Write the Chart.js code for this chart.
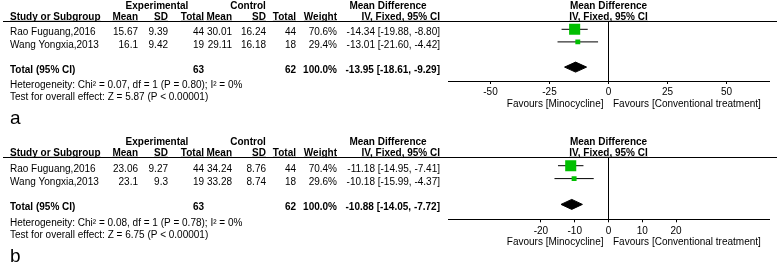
<!DOCTYPE html>
<html>
<head>
<meta charset="utf-8">
<script src="https://cdn.jsdelivr.net/npm/chart.js@4.4.1/dist/chart.umd.min.js"></script>
<style>
  body { margin: 0; background: #fff; }
  canvas { position: absolute; left: 0; }
</style>
</head>
<body>
<canvas id="panelA" width="777" height="136" style="top:0"></canvas>
<canvas id="panelB" width="777" height="128" style="top:136px"></canvas>
<script>
const studies = ['Rao Fuguang,2016', 'Wang Yongxia,2013'];

// panel a
const aExpMean = [15.67, 16.1];
const aExpSD = [9.39, 9.42];
const aExpTotal = [44, 19];
const aCtlMean = [30.01, 29.11];
const aCtlSD = [16.24, 16.18];
const aCtlTotal = [44, 18];
const aWeight = [70.6, 29.4];
const aMD = [-14.34, -13.01];
const aLow = [-19.88, -21.60];
const aHigh = [-8.80, -4.42];
const aPooled = [-13.95, -18.61, -9.29]; // estimate, low, high
const aTotals = [63, 62];
const aHet = 'Heterogeneity: Chi² = 0.07, df = 1 (P = 0.80); I² = 0%';
const aTest = 'Test for overall effect: Z = 5.87 (P < 0.00001)';
const aTicks = [-50, -25, 0, 25, 50];

// panel b
const bExpMean = [23.06, 23.1];
const bExpSD = [9.27, 9.3];
const bExpTotal = [44, 19];
const bCtlMean = [34.24, 33.28];
const bCtlSD = [8.76, 8.74];
const bCtlTotal = [44, 18];
const bWeight = [70.4, 29.6];
const bMD = [-11.18, -10.18];
const bLow = [-14.95, -15.99];
const bHigh = [-7.41, -4.37];
const bPooled = [-10.88, -14.05, -7.72];
const bTotals = [63, 62];
const bHet = 'Heterogeneity: Chi² = 0.08, df = 1 (P = 0.78); I² = 0%';
const bTest = 'Test for overall effect: Z = 6.75 (P < 0.00001)';
const bTicks = [-20, -10, 0, 10, 20];

const FONT = '"Liberation Sans", Arial, sans-serif';
const GREEN = '#00bf00';

// right edges of the numeric columns
const cols = { expMean: 138, expSD: 168, expN: 204, ctlMean: 232, ctlSD: 266, ctlN: 296, weight: 337, md: 440 };

function fmtCI(est, lo, hi) {
  return est.toFixed(2) + ' [' + lo.toFixed(2) + ', ' + hi.toFixed(2) + ']';
}

function txt(ctx, s, x, y, align, bold, size, underline) {
  ctx.font = (bold ? 'bold ' : '') + (size || 10) + 'px ' + FONT;
  ctx.textAlign = align;
  ctx.textBaseline = 'alphabetic';
  ctx.fillStyle = '#000';
  ctx.fillText(s, x, y);
  if (underline) {
    const w = ctx.measureText(s).width;
    const x0 = align === 'right' ? x - w : align === 'center' ? x - w / 2 : x;
    ctx.fillRect(x0, y + 1, w, 1);
  }
}

function drawPanel(id, d, lay) {
  const canvas = document.getElementById(id);
  const H = canvas.height;
  const axisH = 18;
  const yMin = -(lay.firstRow - lay.headerLine) / lay.rowPx;
  const yMax = (lay.axisY - lay.firstRow) / lay.rowPx;
  const totalRow = d.md.length + 1;
  const [est, lo, hi] = d.pooled;
  const h = 5 / lay.rowPx;

  const datasets = [];
  datasets.push({
    data: d.md.map((v, i) => ({ x: v, y: i })),
    pointStyle: 'rect',
    pointRadius: d.weight.map(w => (w * 0.15 + 0.5) / Math.SQRT2),
    backgroundColor: GREEN,
    borderWidth: 0,
    order: 0
  });
  d.md.forEach((v, i) => {
    datasets.push({
      data: [{ x: d.low[i], y: i }, { x: d.high[i], y: i }],
      showLine: true, borderColor: '#000', borderWidth: 1, pointRadius: 0, order: 1
    });
  });
  datasets.push({
    data: [{ x: lo, y: totalRow }, { x: est, y: totalRow - h }, { x: hi, y: totalRow },
           { x: est, y: totalRow + h }, { x: lo, y: totalRow }],
    showLine: true, fill: 'shape', backgroundColor: '#000', borderColor: '#000',
    borderWidth: 1, pointRadius: 0, order: 1
  });
  datasets.push({
    data: [{ x: 0, y: yMin }, { x: 0, y: yMax }],
    showLine: true, borderColor: '#000', borderWidth: 1, pointRadius: 0, order: 2
  });

  const tablePlugin = {
    id: 'table',
    afterDraw(chart) {
      const ctx = chart.ctx;
      const ys = chart.scales.y;
      const xs = chart.scales.x;
      const x0 = xs.getPixelForValue(0);
      ctx.save();
      // header
      txt(ctx, 'Experimental', 157, 8.5, 'center', true);
      txt(ctx, 'Control', 248, 8.5, 'center', true);
      txt(ctx, 'Mean Difference', 388, 8.5, 'center', true);
      txt(ctx, 'Mean Difference', x0, 8.5, 'center', true);
      const hy = 19.8;
      txt(ctx, 'Study or Subgroup', 10, hy, 'left', true, 10, true);
      txt(ctx, 'Mean', cols.expMean, hy, 'right', true, 10, true);
      txt(ctx, 'SD', cols.expSD, hy, 'right', true, 10, true);
      txt(ctx, 'Total', cols.expN, hy, 'right', true, 10, true);
      txt(ctx, 'Mean', cols.ctlMean, hy, 'right', true, 10, true);
      txt(ctx, 'SD', cols.ctlSD, hy, 'right', true, 10, true);
      txt(ctx, 'Total', cols.ctlN, hy, 'right', true, 10, true);
      txt(ctx, 'Weight', cols.weight, hy, 'right', true, 10, true);
      txt(ctx, 'IV, Fixed, 95% CI', cols.md, hy, 'right', true, 10, true);
      txt(ctx, 'IV, Fixed, 95% CI', x0, hy, 'center', true, 10, true);
      ctx.fillStyle = '#000';
      ctx.fillRect(3, lay.headerLine - 0.5, 774, 1);

      // study rows
      studies.forEach((s, i) => {
        const y = ys.getPixelForValue(i) + 6;
        txt(ctx, s, 10, y, 'left');
        txt(ctx, String(d.expMean[i]), cols.expMean, y, 'right');
        txt(ctx, String(d.expSD[i]), cols.expSD, y, 'right');
        txt(ctx, String(d.expN[i]), cols.expN, y, 'right');
        txt(ctx, String(d.ctlMean[i]), cols.ctlMean, y, 'right');
        txt(ctx, String(d.ctlSD[i]), cols.ctlSD, y, 'right');
        txt(ctx, String(d.ctlN[i]), cols.ctlN, y, 'right');
        txt(ctx, d.weight[i].toFixed(1) + '%', cols.weight, y, 'right');
        txt(ctx, fmtCI(d.md[i], d.low[i], d.high[i]), cols.md, y, 'right');
      });

      // total row
      const ty = ys.getPixelForValue(totalRow) + 6;
      txt(ctx, 'Total (95% CI)', 10, ty, 'left', true);
      txt(ctx, String(d.totals[0]), cols.expN, ty, 'right', true);
      txt(ctx, String(d.totals[1]), cols.ctlN, ty, 'right', true);
      txt(ctx, '100.0%', cols.weight, ty, 'right', true);
      txt(ctx, fmtCI(est, lo, hi), cols.md, ty, 'right', true);

      const ay = chart.chartArea.bottom;
      txt(ctx, d.het, 10, ay + 6.6, 'left');
      txt(ctx, d.test, 10, ay + 19, 'left');
      txt(ctx, d.letter, 10, ay + 42.5, 'left', false, 19);

      txt(ctx, 'Favours [Minocycline]', x0 - 5, ay + 25.5, 'right');
      txt(ctx, 'Favours [Conventional treatment]', x0 + 4.5, ay + 25.5, 'left');
      ctx.restore();
    }
  };

  return new Chart(canvas, {
    type: 'scatter',
    data: { datasets },
    options: {
      responsive: false,
      animation: false,
      events: [],
      layout: { padding: { left: 448, right: 8, top: lay.headerLine, bottom: H - lay.axisY - axisH } },
      plugins: { legend: { display: false }, tooltip: { enabled: false } },
      scales: {
        x: {
          type: 'linear',
          min: lay.min,
          max: lay.max,
          afterBuildTicks: s => { s.ticks = d.ticks.map(v => ({ value: v })); },
          afterFit: s => { s.height = axisH; },
          grid: { drawOnChartArea: false, drawTicks: true, tickLength: 3, color: '#000' },
          border: { color: '#000', width: 1 },
          ticks: { color: '#000', padding: 2.5, maxRotation: 0, autoSkip: false, font: { size: 10, family: FONT } }
        },
        y: { type: 'linear', display: false, reverse: true, min: yMin, max: yMax }
      }
    },
    plugins: [tablePlugin]
  });
}

drawPanel('panelA', {
  expMean: aExpMean, expSD: aExpSD, expN: aExpTotal, ctlMean: aCtlMean, ctlSD: aCtlSD, ctlN: aCtlTotal,
  weight: aWeight, md: aMD, low: aLow, high: aHigh, pooled: aPooled, totals: aTotals,
  het: aHet, test: aTest, ticks: aTicks, letter: 'a'
}, { min: -68, max: 68, headerLine: 21.5, firstRow: 29.3, rowPx: 12.6, axisY: 81 });

drawPanel('panelB', {
  expMean: bExpMean, expSD: bExpSD, expN: bExpTotal, ctlMean: bCtlMean, ctlSD: bCtlSD, ctlN: bCtlTotal,
  weight: bWeight, md: bMD, low: bLow, high: bHigh, pooled: bPooled, totals: bTotals,
  het: bHet, test: bTest, ticks: bTicks, letter: 'b'
}, { min: -47.5, max: 47.5, headerLine: 21.5, firstRow: 29.7, rowPx: 12.9, axisY: 83.3 });
</script>
</body>
</html>
